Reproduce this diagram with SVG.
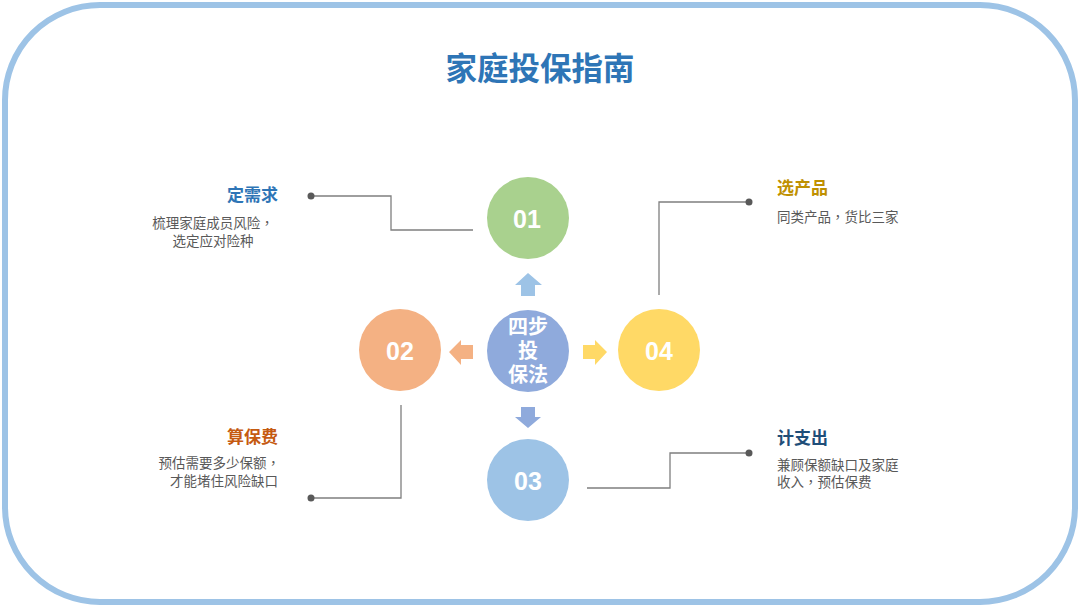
<svg xmlns="http://www.w3.org/2000/svg" width="1080" height="608" viewBox="0 0 1080 608">
<defs>
<style>
.cn{font-family:"Liberation Sans","Noto Sans CJK SC",sans-serif}
.title{font-size:31.5px;font-weight:bold;fill:#2E75B6}
.head{font-size:17px;font-weight:bold}
.desc{font-size:13.5px;fill:#595959}
.cm{font-family:"Noto Sans CJK TC",sans-serif}
.num{font-family:"Liberation Sans",Arial,sans-serif;font-size:25px;font-weight:bold;fill:#fff}
.ctr{font-size:20px;font-weight:bold;fill:#fff}
.conn{fill:none;stroke:#7F7F7F;stroke-width:1.3}
.dot{fill:#595959}
</style>
</defs>
<rect x="5" y="5" width="1070" height="597" rx="95" ry="95" fill="#fff" stroke="#9DC3E6" stroke-width="6"/>
<text class="cn title" x="540" y="80" text-anchor="middle">家庭投保指南</text>

<g id="connectors">
<polyline class="conn" points="311,196 391,196 391,230 473,230"/>
<circle class="dot" cx="311" cy="196" r="3.5"/>
<polyline class="conn" points="659,295 659,202 749,202"/>
<circle class="dot" cx="749" cy="202" r="3.5"/>
<polyline class="conn" points="401,405 401,498 311,498"/>
<circle class="dot" cx="311" cy="498" r="3.5"/>
<polyline class="conn" points="587,488 670,488 670,453 749,453"/>
<circle class="dot" cx="749" cy="453" r="3.5"/>
<polygon fill="#9DC3E6" points="528,273 542,285 535,285 535,296 521,296 521,285 515,285"/>
<polygon fill="#FFD966" points="607,352 595,340 595,345 583,345 583,359 595,359 595,365"/>
<polygon fill="#F4B183" points="449,352 461,340 461,345 473,345 473,359 461,359 461,365"/>
<polygon fill="#8FAADC" points="528,428 541,417 535,417 535,407 521,407 521,417 515,417"/>
</g>

<g id="center">
<circle cx="528" cy="351" r="41" fill="#8FAADC"/>
<text class="cn ctr" x="528" y="334" text-anchor="middle">四步</text>
<text class="cn ctr" x="528" y="358" text-anchor="middle">投</text>
<text class="cn ctr" x="528" y="382" text-anchor="middle">保法</text>
</g>

<g id="node01">
<circle cx="528" cy="218" r="41" fill="#A9D18E"/>
<text class="num" x="527" y="228" text-anchor="middle">01</text>
</g>
<g id="node02">
<circle cx="400" cy="350" r="41" fill="#F4B183"/>
<text class="num" x="400" y="360" text-anchor="middle">02</text>
</g>
<g id="node03">
<circle cx="528" cy="480" r="41" fill="#9DC3E6"/>
<text class="num" x="528" y="490" text-anchor="middle">03</text>
</g>
<g id="node04">
<circle cx="659" cy="350" r="41" fill="#FFD966"/>
<text class="num" x="659" y="360" text-anchor="middle">04</text>
</g>

<g id="label01">
<text class="cn head" x="278" y="201" text-anchor="end" fill="#2E75B6">定需求</text>
<text class="cn desc" x="213" y="228" text-anchor="middle">梳理家庭成员风险<tspan class="cm">，</tspan></text>
<text class="cn desc" x="213" y="246" text-anchor="middle">选定应对险种</text>
</g>
<g id="label02">
<text class="cn head" x="278" y="443" text-anchor="end" fill="#C55A11">算保费</text>
<text class="cn desc" x="280" y="468" text-anchor="end">预估需要多少保额<tspan class="cm">，</tspan></text>
<text class="cn desc" x="278" y="486" text-anchor="end">才能堵住风险缺口</text>
</g>
<g id="label04">
<text class="cn head" x="777" y="194" fill="#BF9000">选产品</text>
<text class="cn desc" x="777" y="222">同类产品<tspan class="cm">，</tspan>货比三家</text>
</g>
<g id="label03">
<text class="cn head" x="777" y="444" fill="#1F4E79">计支出</text>
<text class="cn desc" x="777" y="470">兼顾保额缺口及家庭</text>
<text class="cn desc" x="777" y="487">收入<tspan class="cm">，</tspan>预估保费</text>
</g>
</svg>
